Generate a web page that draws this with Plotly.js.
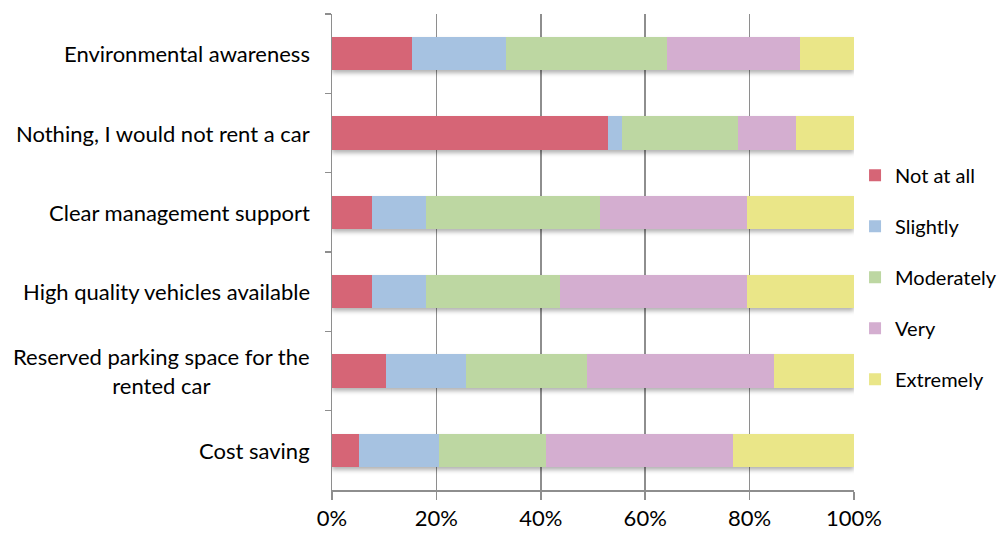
<!DOCTYPE html>
<html>
<head>
<meta charset="utf-8">
<script src="https://cdn.plot.ly/plotly-3.0.1.min.js"></script>
<style>
  html, body { margin: 0; padding: 0; background: #ffffff; }
  #chart { width: 1003px; height: 536px; }
  /* soft drop shadow under the stacked bars */
  #chart .barlayer { filter: drop-shadow(0px 3px 2px rgba(0, 0, 0, 0.30)); }
</style>
</head>
<body>
<div id="chart"></div>
<script>
// Reasons that would motivate renting a car, by level of agreement (% of respondents)
const categories = [
  'Environmental awareness',
  'Nothing, I would not rent a car',
  'Clear management support',
  'High quality vehicles available',
  'Reserved parking space for the<br>rented car',
  'Cost saving'
];

const levels = ['Not at all', 'Slightly', 'Moderately', 'Very', 'Extremely'];

const notAtAll   = [15.4, 52.8,  7.7,  7.7, 10.3,  5.1];
const slightly   = [17.9,  2.8, 10.3, 10.3, 15.4, 15.4];
const moderately = [30.8, 22.2, 33.3, 25.6, 23.1, 20.5];
const very       = [25.6, 11.1, 28.2, 35.9, 35.9, 35.9];
const extremely  = [10.3, 11.1, 20.5, 20.5, 15.4, 23.1];

const xTickValues = [0, 20, 40, 60, 80, 100];

const seriesValues = [notAtAll, slightly, moderately, very, extremely];
const colors = ['#D66576', '#A6C2E1', '#BDD7A2', '#D4AED0', '#EAE688'];

const traces = levels.map((name, i) => ({
  type: 'bar',
  orientation: 'h',
  name: name,
  y: categories,
  x: seriesValues[i],
  width: 0.42,
  marker: { color: colors[i], line: { width: 0 } },
  legendgroup: 'g' + i,
  hoverinfo: 'name+x'
}));

const fontFamily = 'Lato, "Open Sans", sans-serif';
const labelFont = { family: fontFamily, size: 22, color: '#000000' };

// Category labels, centred line by line and right-aligned against the axis
const annotations = categories.map(c => ({
  xref: 'paper', yref: 'y',
  x: 0, y: c,
  xanchor: 'right', yanchor: 'middle',
  xshift: -20,
  align: 'center',
  text: c,
  showarrow: false,
  font: labelFont
}));

const layout = {
  width: 1003,
  height: 536,
  margin: { l: 332, r: 149, t: 14, b: 46, pad: 0, autoexpand: false },
  paper_bgcolor: '#ffffff',
  plot_bgcolor: '#ffffff',
  barmode: 'stack',
  bargap: 0.58,
  showlegend: true,
  legend: {
    x: 1.002, xanchor: 'left',
    y: 0.447, yanchor: 'middle',
    traceorder: 'grouped',
    tracegroupgap: 22,
    font: { family: fontFamily, size: 20, color: '#000000' },
    bgcolor: 'rgba(0,0,0,0)',
    itemwidth: 30
  },
  xaxis: {
    range: [0, 100],
    tickvals: xTickValues,
    ticktext: xTickValues.map(v => v + '%'),
    showgrid: true,
    gridcolor: '#8E8E8E',
    gridwidth: 1.5,
    zeroline: false,
    showline: true,
    linecolor: '#8E8E8E',
    linewidth: 1.5,
    ticks: 'outside',
    ticklen: 8,
    tickcolor: '#8E8E8E',
    tickwidth: 1.5,
    tickfont: { family: fontFamily, size: 22, color: '#000000' },
    fixedrange: true
  },
  yaxis: {
    type: 'category',
    autorange: 'reversed',
    showticklabels: false,
    showgrid: false,
    zeroline: false,
    showline: true,
    linecolor: '#8E8E8E',
    linewidth: 1.5,
    ticks: 'outside',
    tickson: 'boundaries',
    ticklen: 6,
    tickcolor: '#8E8E8E',
    tickwidth: 1.5,
    fixedrange: true
  },
  annotations: annotations
};

Plotly.newPlot('chart', traces, layout, { displayModeBar: false, staticPlot: true });
</script>
</body>
</html>
